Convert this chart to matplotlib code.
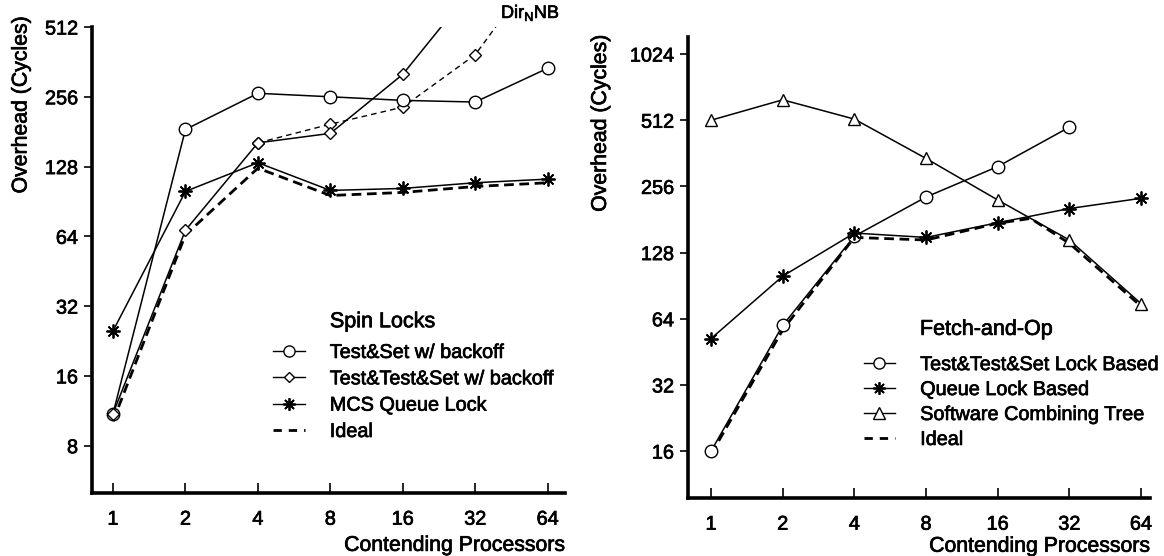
import matplotlib
matplotlib.use("Agg")
import matplotlib.pyplot as plt
import matplotlib.patheffects as pe
from matplotlib.lines import Line2D

plt.rcParams['font.family'] = ['Liberation Sans', 'DejaVu Sans']
bold_fx = [pe.withStroke(linewidth=0.5, foreground='black')]

procs = [1, 2, 4, 8, 16, 32, 64]
xtick_labels = ['1', '2', '4', '8', '16', '32', '64']

# ---- Spin Locks ----
spin_yticks = [8, 16, 32, 64, 128, 256, 512]
ts_backoff = [11, 185, 265, 256, 247, 243, 340]
tts_x = [1, 2, 4, 8, 16, 32]
tts_backoff = [11, 68, 162, 178, 320, 780]
dirnb_x = [4, 8, 16, 32, 64]
dirnb = [162, 195, 231, 389, 1035]
mcs_queue = [25, 100, 133, 101, 103, 109, 113]
spin_ideal = [10.2, 65, 126, 96, 99, 105, 109]
spin_labels = ['Test&Set w/ backoff', 'Test&Test&Set w/ backoff', 'MCS Queue Lock', 'Ideal']

# ---- Fetch-and-Op ----
fop_yticks = [16, 32, 64, 128, 256, 512, 1024]
tts_lock_x = [1, 2, 4, 8, 16, 32]
tts_lock = [16, 59.7, 152, 229, 315, 476]
queue_lock = [52, 100, 157, 150, 175, 203, 226]
comb_tree = [512, 634, 518, 343, 222, 146, 75]
fop_ideal_x = [1, 2, 4, 8, 16, 22, 32, 64]
fop_ideal = [15.5, 57, 150, 146, 174, 183, 141, 73]
fop_labels = ['Test&Test&Set Lock Based', 'Queue Lock Based', 'Software Combining Tree', 'Ideal']

fig = plt.figure(figsize=(11.64, 5.56), dpi=100)
W, H = 1164, 556

def make_ax(l, r, t, b):
    return fig.add_axes([l / W, 1 - b / H, (r - l) / W, (b - t) / H])

def style(ax, xlim, ylim, yticks, xlab_y):
    ax.set_xscale('log', base=2)
    ax.set_yscale('log', base=2)
    ax.set_xlim(*xlim)
    ax.set_ylim(*ylim)
    ax.set_xticks(procs)
    ax.set_xticklabels(xtick_labels)
    ax.set_yticks(yticks)
    ax.set_yticklabels([str(v) for v in yticks])
    ax.minorticks_off()
    for s in ['top', 'right']:
        ax.spines[s].set_visible(False)
    for s in ['left', 'bottom']:
        ax.spines[s].set_linewidth(2.6)
    ax.tick_params(axis='x', direction='in', length=7, width=1.2, labelsize=14.3, pad=12)
    ax.tick_params(axis='y', direction='out', length=6, width=1.2, labelsize=14.3, pad=4)
    for lab in ax.get_xticklabels() + ax.get_yticklabels():
        lab.set_path_effects(bold_fx)
    xl = ax.set_xlabel('Contending Processors', fontsize=15.3, ha='right')
    xl.set_path_effects(bold_fx)
    ax.xaxis.set_label_coords(1.0, xlab_y)
    yl = ax.set_ylabel('Overhead (Cycles)', fontsize=15.3)
    yl.set_path_effects(bold_fx)

mk = dict(markerfacecolor='white', markeredgecolor='black', markeredgewidth=1.0)
star = (8, 2, 0)

def legend(ax, handles, labels, x0, y0, spacing):
    leg = ax.legend(handles, labels, loc='upper left', bbox_to_anchor=(x0, y0),
                    frameon=False, fontsize=14.3, handlelength=1.6,
                    handletextpad=1.25, labelspacing=spacing, borderaxespad=0,
                    borderpad=0)
    for t in leg.get_texts():
        t.set_path_effects(bold_fx)
    return leg

# Left chart
ax1 = make_ax(92, 565, 27, 493)
style(ax1, (0.818, 75.5), (5.0, 512), spin_yticks, -0.092)
ax1.yaxis.set_label_coords(-0.13, 0.833)
ax1.plot(procs, spin_ideal, color='black', lw=2.0, ls=(0, (3.5, 2)))
ax1.plot(dirnb_x, dirnb, color='black', lw=1.0, ls=(0, (4, 3)), marker='D', ms=6.5, **mk)
ax1.plot(procs, ts_backoff, color='black', lw=1.1, marker='o', ms=9, **mk)
ax1.plot(tts_x, tts_backoff, color='black', lw=1.1, marker='D', ms=6.5, **mk)
ax1.plot(procs, mcs_queue, color='black', lw=1.1, marker=star, ms=10, mew=1.3, mec='black')
t = fig.text(501 / W, 1 - 13 / H, r'Dir$_\mathregular{N}$NB', fontsize=13, va='center', ha='left')
t.set_path_effects(bold_fx)

h1 = [Line2D([], [], color='black', lw=1.0, marker='o', ms=8, **mk),
      Line2D([], [], color='black', lw=1.0, marker='D', ms=5.5, **mk),
      Line2D([], [], color='black', lw=1.0, marker=star, ms=9, mew=1.3, mec='black'),
      Line2D([], [], color='black', lw=2.0, ls=(0, (3, 2.5)))]
legend(ax1, h1, spin_labels, 0.383, 0.322, 0.37)
tt = ax1.text(0.503, 0.345, 'Spin Locks', transform=ax1.transAxes, fontsize=15.5,
              ha='left', va='bottom')
tt.set_path_effects(bold_fx)

# Right chart
ax2 = make_ax(688, 1150, 37, 498)
style(ax2, (0.80, 69.8), (9.79, 1224), fop_yticks, -0.084)
ax2.yaxis.set_label_coords(-0.169, 0.813)
ax2.plot(fop_ideal_x, fop_ideal, color='black', lw=2.0, ls=(0, (3.5, 2)))
ax2.plot(procs, comb_tree, color='black', lw=1.1, marker='^', ms=9, **mk)
ax2.plot(tts_lock_x, tts_lock, color='black', lw=1.1, marker='o', ms=9, **mk)
ax2.plot(procs, queue_lock, color='black', lw=1.1, marker=star, ms=10, mew=1.3, mec='black')

h2 = [Line2D([], [], color='black', lw=1.0, marker='o', ms=8, **mk),
      Line2D([], [], color='black', lw=1.0, marker=star, ms=9, mew=1.3, mec='black'),
      Line2D([], [], color='black', lw=1.0, marker='^', ms=8, **mk),
      Line2D([], [], color='black', lw=2.0, ls=(0, (3, 2.5)))]
legend(ax2, h2, fop_labels, 0.38, 0.31, 0.3)
tt2 = ax2.text(0.502, 0.343, 'Fetch-and-Op', transform=ax2.transAxes, fontsize=15.5,
               ha='left', va='bottom')
tt2.set_path_effects(bold_fx)

fig.savefig('out.png', dpi=100)
